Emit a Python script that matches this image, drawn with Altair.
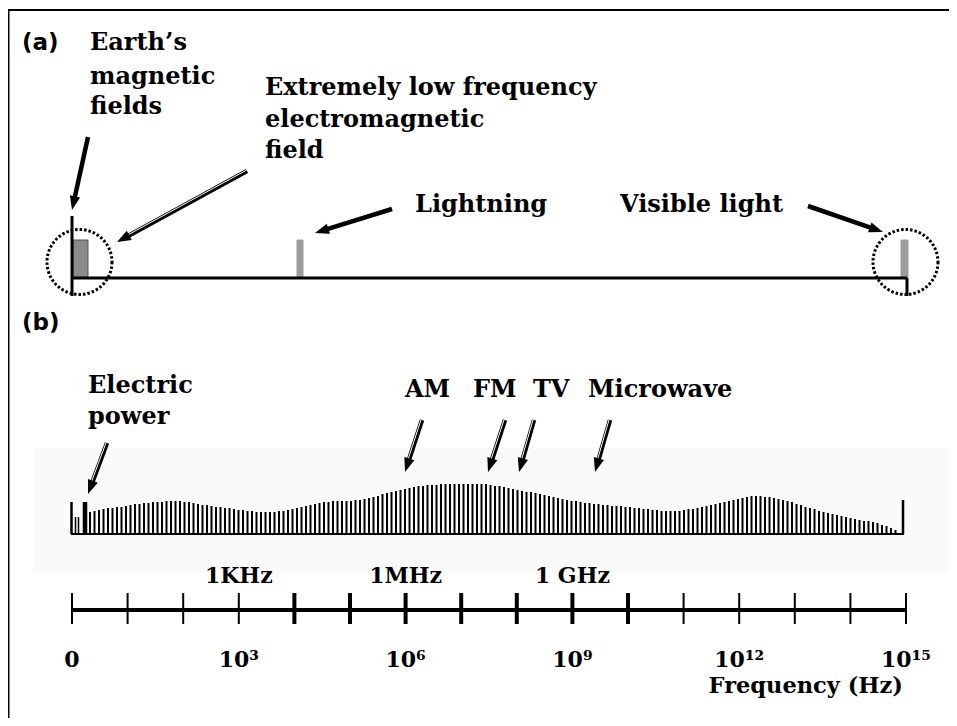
import math
import altair as alt
import pandas as pd

# ---------------- coordinate helpers (page pixels -> data units) -------------
PX0, PXD = 72.0, 55.6          # page x of 10^0 and pixels per decade


def ex(px):
    return (px - PX0) / PXD


# ---------------- data -------------------------------------------------------
decades = list(range(16))
thick_decades = [4, 5, 6, 7, 8, 9, 10]
power_at = [0, 3, 6, 9, 12, 15]
power_labels = ["0", "10³", "10⁶", "10⁹", "10¹²", "10¹⁵"]
unit_at = [3, 6, 9]
unit_labels = ["1KHz", "1MHz", "1 GHz"]

# spectrum envelope (height of each hatching line above the baseline)
spectrum_amp = [
    22, 23, 24, 25, 26, 26, 27, 27, 28, 29, 30, 30, 31, 31, 32, 32, 32, 33, 33, 33,
    33, 32, 32, 31, 30, 29, 29, 28, 27, 27, 26, 26, 25, 24, 24, 23, 23, 22, 22, 22,
    22, 22, 23, 23, 24, 25, 26, 27, 28, 29, 30, 31, 32, 32, 33, 33, 33, 33, 33, 34,
    34, 35, 36, 37, 38, 40, 41, 42, 43, 44, 45, 46, 47, 48, 48, 49, 49, 49, 50, 50,
    50, 50, 50, 50, 50, 50, 50, 50, 50, 49, 48, 48, 47, 46, 45, 44, 43, 42, 42, 41,
    40, 39, 38, 37, 36, 35, 34, 33, 33, 32, 31, 31, 30, 30, 29, 29, 28, 28, 28, 27,
    27, 26, 26, 25, 25, 24, 24, 23, 23, 23, 23, 23, 24, 25, 25, 26, 27, 28, 29, 30,
    31, 32, 33, 34, 35, 36, 37, 38, 38, 38, 37, 37, 36, 35, 34, 33, 32, 30, 29, 27,
    26, 25, 23, 22, 21, 20, 19, 18, 17, 16, 15, 14, 13, 13, 12, 11, 9, 8, 6, 4,
]
SPEC_START, SPEC_STEP, SPEC_BASE = 90.0, 4.5, 534.0

# electric power lines (page x, top y, width)
power_x = [71.5, 75.5, 78.5, 85.0]
power_top = [502, 517, 517, 502]
power_w = [2.5, 1.5, 1.5, 4.5]

# text annotations: text, left x, baseline y
serif_text = ["Earth’s", "magnetic", "fields",
              "Extremely low frequency", "electromagnetic", "field",
              "Lightning", "Visible light",
              "Electric", "power", "AM", "FM", "TV", "Microwave"]
serif_x = [90, 90, 90, 265, 265, 265, 415, 620, 88, 88, 405, 473, 533, 588]
serif_y = [50, 84, 114, 95, 127, 158, 212, 212, 393, 424, 397, 397, 397, 397]
panel_text = ["(a)", "(b)"]
panel_x = [22, 22]
panel_y = [50, 330]

# arrows: tail x, tail y, head x, head y, hollow?
arr_tx = [88, 247, 392, 808, 107, 422, 505, 534, 610]
arr_ty = [137, 171, 209, 206, 443, 420, 420, 420, 420]
arr_hx = [72, 117, 315, 883, 88, 405, 488, 519, 595]
arr_hy = [210, 242, 233, 232, 494, 472, 472, 472, 472]
arr_hollow = [False, True, False, False, True, True, True, True, True]

# ---------------- scales -----------------------------------------------------
XS = alt.Scale(domain=[ex(8), ex(949)], nice=False, zero=False)
YS = alt.Scale(domain=[718, 8], nice=False, zero=False)


def X(f):
    return alt.X(f, type="quantitative", scale=XS, axis=None)


def Y(f):
    return alt.Y(f, type="quantitative", scale=YS, axis=None)


SERIF = "DejaVu Serif"

# ---------------- frames -----------------------------------------------------
bg = pd.DataFrame({"x": [ex(33)], "x2": [ex(950)], "y": [448], "y2": [573]})
border = pd.DataFrame({"x": [ex(8.5)], "x2": [ex(950.5)], "y": [10], "y2": [760]})

rules = []
# panel (a) axis
rules.append((ex(72), ex(907), 278, 278, 3.0, "black"))
rules.append((ex(72), ex(72), 216, 296, 3.0, "black"))
rules.append((ex(907), ex(907), 278, 296, 3.0, "black"))
# spectrum baseline and end line
rules.append((ex(71), ex(904), SPEC_BASE, SPEC_BASE, 2.0, "black"))
rules.append((ex(903), ex(903), SPEC_BASE, 500, 2.5, "black"))
for px, top, w in zip(power_x, power_top, power_w):
    rules.append((ex(px), ex(px), SPEC_BASE, top, w, "black"))
for i, a in enumerate(spectrum_amp):
    e = ex(SPEC_START + SPEC_STEP * i)
    rules.append((e, e, SPEC_BASE, SPEC_BASE - a, 2.0, "black"))
# frequency axis
rules.append((0, 15, 610, 610, 4.0, "black"))
for d in decades:
    rules.append((d, d, 593, 624, 4.0 if d in thick_decades else 2.0, "black"))

# arrows
heads = []
for tx, ty, hx, hy, hol in zip(arr_tx, arr_ty, arr_hx, arr_hy, arr_hollow):
    dx, dy = hx - tx, hy - ty
    L = math.hypot(dx, dy)
    ux, uy = dx / L, dy / L
    sx, sy = hx - ux * 11, hy - uy * 11
    rules.append((ex(tx), ex(sx), ty, sy, 4.5, "black"))
    if hol:
        px_, py_ = -uy * 1.0, ux * 1.0
        rules.append((ex(tx + px_), ex(sx + px_), ty + py_, sy + py_, 1.0, "white"))
    ang = (math.degrees(math.atan2(dx, -dy)) + 360) % 360
    heads.append((ex(hx), hy, ang))

rules_df = pd.DataFrame(rules, columns=["x", "x2", "y", "y2", "w", "c"])
heads_df = pd.DataFrame(heads, columns=["x", "y", "ang"])

bars_a = pd.DataFrame({
    "x": [ex(73), ex(297), ex(901)],
    "x2": [ex(88), ex(303), ex(908)],
    "y": [240, 240, 240],
    "y2": [278, 278, 278],
    "c": ["#8a8a8a", "#9c9c9c", "#9c9c9c"],
    "s": ["#555555", "#9c9c9c", "#9c9c9c"],
})
circles = pd.DataFrame({"x": [ex(79.5), ex(905.5)], "y": [262, 262]})

serif_df = pd.DataFrame({"t": serif_text, "x": [ex(v) for v in serif_x], "y": serif_y})
panel_df = pd.DataFrame({"t": panel_text, "x": [ex(v) for v in panel_x], "y": panel_y})
pow_df = pd.DataFrame({"t": power_labels, "x": power_at, "y": [667] * 6})
unit_df = pd.DataFrame({"t": unit_labels, "x": unit_at, "y": [583] * 3})
freq_df = pd.DataFrame({"t": ["Frequency (Hz)"], "x": [ex(903)], "y": [693]})

# ---------------- layers -----------------------------------------------------
l_bg = alt.Chart(bg).mark_rect(fill="#fafafa").encode(
    x=X("x"), x2="x2", y=Y("y"), y2="y2")
l_border = alt.Chart(border).mark_rect(fillOpacity=0, stroke="black", strokeWidth=2).encode(
    x=X("x"), x2="x2", y=Y("y"), y2="y2")
l_bars = alt.Chart(bars_a).mark_rect(strokeWidth=1).encode(
    x=X("x"), x2="x2", y=Y("y"), y2="y2",
    fill=alt.Fill("c:N", scale=None), stroke=alt.Stroke("s:N", scale=None))
l_rules = alt.Chart(rules_df).mark_rule().encode(
    x=X("x"), x2="x2", y=Y("y"), y2="y2",
    strokeWidth=alt.StrokeWidth("w:Q", scale=None),
    color=alt.Color("c:N", scale=None))
l_circ = alt.Chart(circles).mark_point(
    shape="circle", size=4225, filled=False, color="black",
    strokeWidth=3, strokeDash=[2.5, 2], opacity=1).encode(x=X("x"), y=Y("y"))
l_heads = alt.Chart(heads_df).mark_point(
    shape="M0,0 L0.75,2 L-0.75,2 Z", size=196, filled=True,
    color="black", opacity=1).encode(
    x=X("x"), y=Y("y"), angle=alt.Angle("ang:Q", scale=None))


def texts(df, font, size, align="left", weight="bold"):
    return alt.Chart(df).mark_text(
        font=font, fontSize=size, fontWeight=weight, align=align,
        baseline="alphabetic", color="black").encode(
        x=X("x"), y=Y("y"), text="t:N")


l_serif = texts(serif_df, SERIF, 24)
l_panel = texts(panel_df, "DejaVu Sans", 23)
l_pow = texts(pow_df, SERIF, 22, align="center")
l_unit = texts(unit_df, SERIF, 22, align="center")
l_freq = texts(freq_df, SERIF, 22.5, align="right")

chart = alt.layer(
    l_bg, l_border, l_bars, l_rules, l_circ, l_heads,
    l_serif, l_panel, l_pow, l_unit, l_freq,
).properties(
    width=941, height=710, padding=0,
    autosize=alt.AutoSizeParams(type="none"),
).configure_view(strokeWidth=0)

chart.save("out.html", embed_options={"renderer": "svg", "actions": False})
